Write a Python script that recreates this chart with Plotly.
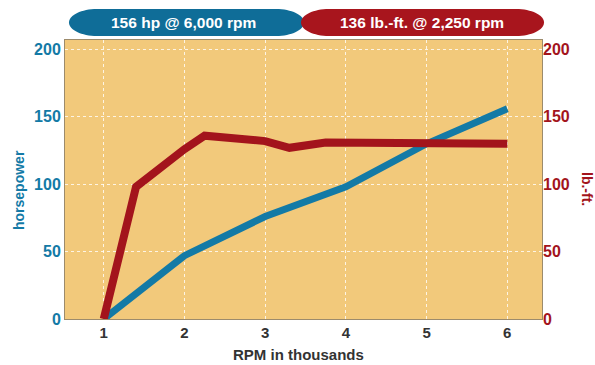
import plotly.graph_objects as go

# Engine output curves (RPM in thousands)
hp_rpm = [1, 2, 3, 4, 5, 6]
horsepower = [0, 47, 76, 98, 130, 156]

tq_rpm = [1, 1.4, 2, 2.25, 3, 3.3, 3.75, 4, 5, 6]
torque = [0, 98, 126, 136, 132, 127, 131, 131, 131, 130]

x_ticks = [1, 2, 3, 4, 5, 6]
y_ticks = [0, 50, 100, 150, 200]

hp_label = "156 hp @ 6,000 rpm"
tq_label = "136 lb.-ft. @ 2,250 rpm"

BLUE = "#137aa6"
BLUE_PILL = "#0f6d98"
RED = "#a3141c"
RED_PILL = "#a8151d"
BG = "#f2c97b"
FONT = "Liberation Sans, Arial, sans-serif"

W, H = 595, 365
ML, MR, MT, MB = 65, 53, 40, 46
PW, PH = W - ML - MR, H - MT - MB


def px(x):
    return (x - ML) / PW


def py(y):
    return (H - MB - y) / PH


def pill(x0, x1, y0, y1, rx=28):
    """Closed path of a rounded banner, given in pixel bounds."""
    k = 0.5523
    ry = (y1 - y0) / 2
    ym = (y0 + y1) / 2
    pts = [
        ("M", [(x0 + rx, y0)]),
        ("L", [(x1 - rx, y0)]),
        ("C", [(x1 - rx + k * rx, y0), (x1, ym - k * ry), (x1, ym)]),
        ("C", [(x1, ym + k * ry), (x1 - rx + k * rx, y1), (x1 - rx, y1)]),
        ("L", [(x0 + rx, y1)]),
        ("C", [(x0 + rx - k * rx, y1), (x0, ym + k * ry), (x0, ym)]),
        ("C", [(x0, ym - k * ry), (x0 + rx - k * rx, y0), (x0 + rx, y0)]),
    ]
    out = ""
    for cmd, ps in pts:
        out += cmd + " ".join(f"{px(a):.5f},{py(b):.5f}" for a, b in ps) + " "
    return out + "Z"


def label(text, x, y, color, size, angle=0, bold=True):
    return dict(
        text=f"<b>{text}</b>" if bold else text,
        xref="paper", yref="paper", x=px(x), y=py(y),
        xanchor="center", yanchor="middle", showarrow=False,
        textangle=angle, font=dict(color=color, size=size, family=FONT),
    )


fig = go.Figure()
fig.add_trace(go.Scatter(
    x=hp_rpm, y=horsepower, mode="lines",
    line=dict(color=BLUE, width=7), yaxis="y", showlegend=False,
))
fig.add_trace(go.Scatter(
    x=tq_rpm, y=torque, mode="lines",
    line=dict(color=RED, width=8), yaxis="y2", showlegend=False,
))

grid = dict(showgrid=True, gridcolor="rgba(255,255,255,0.8)", griddash="dot", gridwidth=1)

fig.update_layout(
    width=W, height=H,
    margin=dict(l=ML, r=MR, t=MT, b=MB),
    paper_bgcolor="white",
    plot_bgcolor=BG,
    font=dict(family=FONT, size=14),
    xaxis=dict(
        range=[0.52, 6.43], tickvals=x_ticks, ticks="",
        tickfont=dict(color="#333333", size=15, family=FONT, weight="bold"),
        showline=True, linecolor="#9c8b6c", linewidth=1, mirror=True,
        zeroline=False, **grid,
    ),
    yaxis=dict(
        range=[0, 207], tickvals=y_ticks, ticks="",
        tickfont=dict(color=BLUE, size=16, family=FONT, weight="bold"),
        showline=True, linecolor="#9c8b6c", linewidth=1, mirror=True,
        zeroline=False, **grid,
    ),
    yaxis2=dict(
        range=[0, 207], tickvals=y_ticks, ticks="", overlaying="y", side="right",
        tickfont=dict(color=RED, size=16, family=FONT, weight="bold"),
        showgrid=False, zeroline=False,
    ),
    shapes=[
        dict(type="path", xref="paper", yref="paper", path=pill(69, 304, 9, 36),
             fillcolor=BLUE_PILL, line=dict(width=0), layer="above"),
        dict(type="path", xref="paper", yref="paper", path=pill(301, 544, 9, 36),
             fillcolor=RED_PILL, line=dict(width=0), layer="above"),
    ],
    annotations=[
        label(hp_label, 183, 22.5, "white", 15.5),
        label(tq_label, 422, 22.5, "white", 15.5),
        label("horsepower", 19, 190, BLUE, 14, angle=-90),
        label("lb.-ft.", 587, 189, RED, 14, angle=90),
        label("RPM in thousands", 298, 355, "#333333", 15),
    ],
)

fig.write_html("out.html")
